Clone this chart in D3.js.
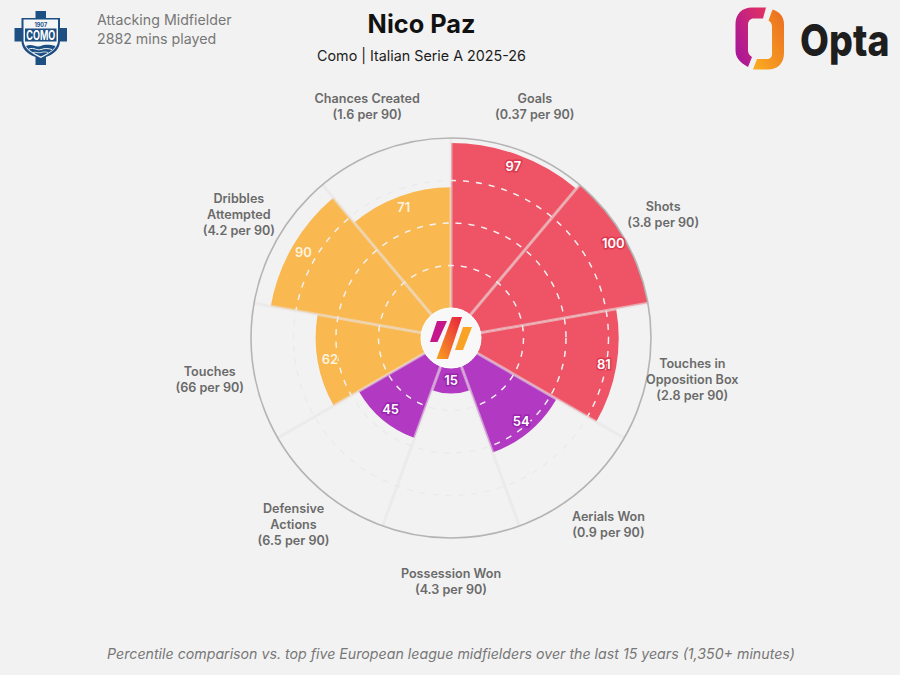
<!DOCTYPE html>
<html>
<head>
<meta charset="utf-8">
<script src="https://cdn.jsdelivr.net/npm/d3@7"></script>
<style>
html,body{margin:0;padding:0;background:#f2f2f2;}
svg{display:block;}
text{font-family:Inter,"Noto Sans",sans-serif;}
</style>
</head>
<body>
<svg id="chart" width="900" height="675"></svg>
<script>
const metrics = ["Goals","Shots","Touches in Box","Aerials Won","Possession Won","Defensive Actions","Touches","Dribbles Attempted","Chances Created"];
const percentiles = [97,100,81,54,15,45,62,90,71];
const groups = ["attack","attack","attack","defence","defence","defence","possession","possession","possession"];
const labelLines = [
  ["Goals","(0.37 per 90)"],
  ["Shots","(3.8 per 90)"],
  ["Touches in","Opposition Box","(2.8 per 90)"],
  ["Aerials Won","(0.9 per 90)"],
  ["Possession Won","(4.3 per 90)"],
  ["Defensive","Actions","(6.5 per 90)"],
  ["Touches","(66 per 90)"],
  ["Dribbles","Attempted","(4.2 per 90)"],
  ["Chances Created","(1.6 per 90)"]
];
const ringValues = [25,50,75];

const svg = d3.select("#chart");
const cx = 451, cy = 338;
const inner = 30, outer = 200;

const angle = d3.scaleBand().domain(metrics).range([0, 2*Math.PI]);
const radius = d3.scaleLinear().domain([0,100]).range([inner, outer]);
const colour = d3.scaleOrdinal().domain(["attack","defence","possession"]).range(["#ee5465","#b23ac3","#f9b850"]);
const halo = d3.scaleOrdinal().domain(["attack","defence","possession"]).range(["#dc3a50","#9a24ae","#f9b850"]);

const chart = svg.append("g").attr("transform",`translate(${cx},${cy})`);
const polar = (a,r)=>[r*Math.sin(a), -r*Math.cos(a)];

// wedges
const arc = d3.arc();
chart.selectAll("path.wedge").data(metrics).join("path")
  .attr("class","wedge")
  .attr("fill",(d,i)=>colour(groups[i]))
  .attr("d",(d,i)=>arc({innerRadius:inner,outerRadius:radius(percentiles[i]),startAngle:angle(d),endAngle:angle(d)+angle.bandwidth()}));

// percentile rings
chart.selectAll("circle.ring").data(ringValues).join("circle")
  .attr("class","ring")
  .attr("r",d=>radius(d))
  .attr("fill","none")
  .attr("stroke","#eaeaea")
  .attr("stroke-width",1.3)
  .attr("stroke-dasharray","6 7");

// the same rings in lighter ink, clipped to each wedge
const defs = svg.append("defs");
metrics.forEach((d,i)=>{
  defs.append("clipPath").attr("id",`w${i}`).append("path")
    .attr("d",arc({innerRadius:inner,outerRadius:radius(percentiles[i]),startAngle:angle(d),endAngle:angle(d)+angle.bandwidth()}));
  chart.append("g").attr("clip-path",`url(#w${i})`)
    .selectAll("circle").data(ringValues).join("circle")
    .attr("r",v=>radius(v))
    .attr("fill","none")
    .attr("stroke","#ffffff")
    .attr("stroke-opacity",0.38)
    .attr("stroke-width",1.5)
    .attr("stroke-dasharray","6 7");
});

// spokes between the metrics
chart.selectAll("line.spoke").data(metrics).join("line")
  .attr("class","spoke")
  .attr("x1",d=>polar(angle(d),inner)[0])
  .attr("y1",d=>polar(angle(d),inner)[1])
  .attr("x2",d=>polar(angle(d),outer)[0])
  .attr("y2",d=>polar(angle(d),outer)[1])
  .attr("stroke","#e8e4e4")
  .attr("stroke-opacity",0.58)
  .attr("stroke-width",3);

// outer boundary
chart.append("circle").attr("r",outer).attr("fill","none").attr("stroke","#b4b4b4").attr("stroke-width",1.6);

// value labels sit just inside each wedge's edge
chart.selectAll("text.value").data(metrics).join("text")
  .attr("class","value")
  .attr("text-anchor","middle")
  .attr("dominant-baseline","central")
  .attr("font-size",13)
  .attr("font-weight",600)
  .attr("fill",(d,i)=>groups[i]==="possession"?"#fdf3df":"#fff")
  .attr("stroke",(d,i)=>halo(groups[i]))
  .attr("stroke-width",3)
  .attr("paint-order","stroke")
  .attr("transform",(d,i)=>{
    const p = polar(angle(d)+angle.bandwidth()/2, radius(percentiles[i])-12.5);
    return `translate(${p[0]},${p[1]-0.8})`;
  })
  .text((d,i)=>percentiles[i]);

// metric labels outside the boundary
const lineH = 16;
chart.selectAll("text.metric").data(metrics).join("text")
  .attr("class","metric")
  .attr("text-anchor","middle")
  .attr("font-size",12.6)
  .attr("font-weight",600)
  .attr("fill","#6a6a6a")
  .each(function(d,i){
    const p = polar(angle(d)+angle.bandwidth()/2, 245);
    const lines = labelLines[i];
    d3.select(this).selectAll("tspan").data(lines).join("tspan")
      .attr("x",p[0])
      .attr("y",(l,j)=>p[1]+(j-(lines.length-1)/2)*lineH+3)
      .text(l=>l);
  });

// centre badge
const badge = chart.append("g");
badge.append("circle").attr("r",30).attr("fill","#f8f8f8").attr("stroke","#ffffff").attr("stroke-width",1);
const gradBadge = defs.append("linearGradient").attr("id","gradBadge").attr("x1","0").attr("y1","1").attr("x2","1").attr("y2","0");
gradBadge.append("stop").attr("offset","0").attr("stop-color","#f9a11f");
gradBadge.append("stop").attr("offset","1").attr("stop-color","#e8203f");
badge.append("path").attr("d","M-14,-17 L-4,-17 L-13.5,4 L-21,4 Z").attr("fill","#c5168c");
badge.append("path").attr("d","M1,-21 L11,-21 L-3,21 L-14.5,21 Z").attr("fill","url(#gradBadge)");
badge.append("path").attr("d","M12,-11 L21,-11 L12,12 L4,12 Z").attr("fill","#f9a326");

// titles
svg.append("text").attr("x",421.5).attr("y",33).attr("text-anchor","middle")
  .attr("font-size",25.3).attr("font-weight",700).attr("fill","#111").text("Nico Paz");
svg.append("text").attr("x",421.5).attr("y",61).attr("text-anchor","middle")
  .attr("font-size",14.3).attr("font-weight",400).attr("fill","#1c1c1c").text("Como | Italian Serie A 2025-26");
svg.append("text").attr("x",97).attr("y",25).attr("font-size",14.2).attr("fill","#777").text("Attacking Midfielder");
svg.append("text").attr("x",97).attr("y",44).attr("font-size",14.2).attr("fill","#777").text("2882 mins played");
svg.append("text").attr("x",451).attr("y",658.5).attr("text-anchor","middle")
  .attr("font-size",14.2).attr("font-style","italic").attr("fill","#777")
  .text("Percentile comparison vs. top five European league midfielders over the last 15 years (1,350+ minutes)");

// club crest
const crest = svg.append("g");
crest.append("path").attr("d","M35.5,11 H46 V18 H60 V28 H67 V41.5 H60 C59.5,49 55,53.5 46,57 V65 H35.5 V57 C26.5,53.5 22,49 21.5,41.5 H14.5 V28 H21.5 V18 H35.5 Z").attr("fill","#1d4f83");
crest.append("path").attr("d","M23.5,19.5 H58 V41 C57.5,48.5 50,53.5 40.8,58 C31.5,53.5 24,48.5 23.5,41 Z").attr("fill","#f4f6f8");
crest.append("rect").attr("x",25).attr("y",28.5).attr("width",31.5).attr("height",13).attr("fill","#1d4f83");
crest.append("text").attr("x",40.8).attr("y",40).attr("text-anchor","middle").attr("font-size",13).attr("font-weight",700)
  .attr("textLength",29).attr("lengthAdjust","spacingAndGlyphs").attr("fill","#fff").text("COMO");
crest.append("text").attr("x",40.8).attr("y",27).attr("text-anchor","middle").attr("font-size",5.5).attr("font-weight",700).attr("fill","#1d4f83").text("1907");
crest.append("path").attr("d","M26,46 C32,43 36,48 41,46 C46,44 50,45 55.5,46 C54,50 48,53 41,56.5 C34,53 28,50 26,46 Z").attr("fill","#1d4f83");
crest.append("path").attr("d","M29,49 C34,47 37,51 41,49.5 C45,48 49,48.5 52,49.5").attr("fill","none").attr("stroke","#f4f6f8").attr("stroke-width",1);
crest.append("path").attr("d","M33,52.5 C36,51.5 38,53.5 41,52.5 C44,51.5 46,52 48,52.5").attr("fill","none").attr("stroke","#f4f6f8").attr("stroke-width",0.8);

// Opta mark and wordmark
const gradL = defs.append("linearGradient").attr("id","optaL").attr("x1","0").attr("y1","0.8").attr("x2","1").attr("y2","0");
gradL.append("stop").attr("offset","0").attr("stop-color","#a8169a");
gradL.append("stop").attr("offset","1").attr("stop-color","#e4325f");
const gradR = defs.append("linearGradient").attr("id","optaR").attr("x1","0").attr("y1","1").attr("x2","1").attr("y2","0");
gradR.append("stop").attr("offset","0").attr("stop-color","#fbae22");
gradR.append("stop").attr("offset","1").attr("stop-color","#ea6c20");
svg.append("path").attr("fill","url(#optaL)")
  .attr("d","M766,7.5 H752 C742,7.5 735.5,14 735.5,24 V50 C735.5,57 739,62 748,67 L752,57 C749,55 748,53 748,50 V25 C748,21 750,18.5 754,18.5 H763 Z");
svg.append("path").attr("fill","url(#optaR)")
  .attr("d","M772.5,9.5 C780,12 784,17 784,24 V53 C784,63 778,69.5 768,69.5 H753 L757,59 H767 C770,59 772,57 772,54 V27 C772,24 771,22 768.5,20.5 Z");
svg.append("text").attr("transform","translate(800,56) scale(1,1.18)").attr("font-size",37.5).attr("font-weight",800)
  .attr("fill","#1e1e1e").text("Opta");
</script>
</body>
</html>
